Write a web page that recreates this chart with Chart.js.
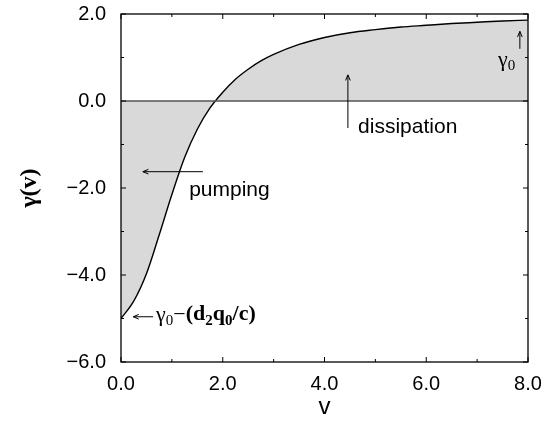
<!DOCTYPE html>
<html>
<head>
<meta charset="utf-8">
<script src="https://cdn.jsdelivr.net/npm/chart.js@4"></script>
<style>
  body { margin: 0; background: #fff; }
  #wrap { width: 552px; height: 422px; position: relative; }
</style>
</head>
<body>
<div id="wrap"><canvas id="gamma"></canvas></div>
<script>
// values
const vValues = [0, 0.25, 0.5, 0.75, 1.0, 1.25, 1.5, 1.75, 2.0, 2.25, 2.5, 2.75, 3.0, 3.5, 4.0, 4.5, 5.0, 5.5, 6.0, 6.5, 7.0, 7.5, 8.0];
const gammaValues = [-5.0, -4.6, -3.97, -3.08, -2.15, -1.3, -0.65, -0.16, 0.2, 0.5, 0.73, 0.92, 1.07, 1.3, 1.46, 1.57, 1.64, 1.70, 1.74, 1.78, 1.81, 1.84, 1.86];
const zeroLine = [0, 0];
const zeroV = [0, 8];
const xTicks = [0, 2, 4, 6, 8];
const yTicks = [-6, -4, -2, 0, 2];

const sans = '"Liberation Sans", Arial, sans-serif';
const serif = '"Liberation Serif", "Times New Roman", serif';

function fmt(v) {
  return v.toFixed(1).replace('-', '\u2212');
}

function arrow(ctx, x1, y1, x2, y2) {
  let a = Math.atan2(y2 - y1, x2 - x1), h = 6;
  ctx.beginPath();
  ctx.moveTo(x1, y1);
  ctx.lineTo(x2, y2);
  ctx.moveTo(x2 - h * Math.cos(a - 0.4), y2 - h * Math.sin(a - 0.4));
  ctx.lineTo(x2, y2);
  ctx.lineTo(x2 - h * Math.cos(a + 0.4), y2 - h * Math.sin(a + 0.4));
  ctx.stroke();
}

// draw a list of [text, bold, sub] pieces from x, middle at y
function pieces(ctx, list, x, y, size) {
  ctx.textBaseline = 'middle';
  ctx.textAlign = 'left';
  list.forEach(p => {
    let s = p[2] ? Math.round(size * 0.7) : size;
    ctx.font = (p[1] ? 'bold ' : '') + s + 'px ' + serif;
    ctx.fillText(p[0], x, p[2] ? y + size * 0.28 : y);
    x += ctx.measureText(p[0]).width;
  });
}

const frame = {
  id: 'frame',
  afterDatasetsDraw(chart) {
    let ctx = chart.ctx, a = chart.chartArea;
    let xs = chart.scales.x, ys = chart.scales.y;
    ctx.save();
    ctx.strokeStyle = '#000';
    ctx.lineWidth = 1.3;
    ctx.strokeRect(a.left, a.top, a.right - a.left, a.bottom - a.top);
    ctx.lineWidth = 1;
    for (let v = 0; v <= 8; v++) {
      let px = xs.getPixelForValue(v), len = v % 2 === 0 ? 5 : 3;
      ctx.beginPath();
      ctx.moveTo(px, a.bottom); ctx.lineTo(px, a.bottom - len);
      ctx.moveTo(px, a.top); ctx.lineTo(px, a.top + len);
      ctx.stroke();
    }
    for (let g = -6; g <= 2; g++) {
      let py = ys.getPixelForValue(g), len = g % 2 === 0 ? 5 : 3;
      ctx.beginPath();
      ctx.moveTo(a.left, py); ctx.lineTo(a.left + len, py);
      ctx.moveTo(a.right, py); ctx.lineTo(a.right - len, py);
      ctx.stroke();
    }

    // annotations
    let X = v => xs.getPixelForValue(v), Y = g => ys.getPixelForValue(g);
    ctx.fillStyle = '#000';
    ctx.lineWidth = 1;
    arrow(ctx, X(1.61), Y(-1.625), X(0.43), Y(-1.625));
    ctx.font = '21px ' + sans;
    ctx.textBaseline = 'middle';
    ctx.fillText('pumping', X(1.34), Y(-2.06));

    arrow(ctx, X(4.46), Y(-0.62), X(4.46), Y(0.6));
    ctx.fillText('dissipation', X(4.66), Y(-0.6));

    arrow(ctx, X(7.84), Y(1.2), X(7.84), Y(1.6));
    pieces(ctx, [['\u03b3', false, false], ['0', false, true]], X(7.41), Y(0.87) - 3, 22);

    arrow(ctx, X(0.63), Y(-4.96), X(0.24), Y(-4.96));
    pieces(ctx, [
      ['\u03b3', false, false], ['0', false, true], ['\u2212', false, false],
      ['(d', true, false], ['2', true, true], ['q', true, false], ['0', true, true], ['/c)', true, false]
    ], X(0.69), Y(-4.96) - 2, 22);
    ctx.restore();
  }
};

new Chart(document.getElementById('gamma').getContext('2d'), {
  type: 'line',
  data: {
    datasets: [
      {
        data: vValues.map((v, i) => ({ x: v, y: gammaValues[i] })),
        borderColor: '#000',
        borderWidth: 1.4,
        backgroundColor: '#d9d9d9',
        fill: 'origin',
        pointRadius: 0,
        cubicInterpolationMode: 'monotone',
        order: 2
      },
      {
        data: zeroV.map((v, i) => ({ x: v, y: zeroLine[i] })),
        borderColor: '#555',
        borderWidth: 1.4,
        pointRadius: 0,
        fill: false,
        order: 1
      }
    ]
  },
  options: {
    responsive: true,
    maintainAspectRatio: false,
    animation: false,
    layout: { padding: { left: 0, top: 14, right: 24, bottom: 0 } },
    plugins: { legend: { display: false }, tooltip: { enabled: false } },
    scales: {
      x: {
        type: 'linear', min: 0, max: 8,
        afterBuildTicks: s => { s.ticks = xTicks.map(v => ({ value: v })); },
        afterFit: s => { s.height = 60; s.paddingLeft = 0; s.paddingRight = 0; },
        grid: { display: false, drawTicks: false },
        border: { display: false },
        ticks: { padding: 10, color: '#000', font: { family: sans, size: 20 }, callback: fmt },
        title: { display: true, text: 'v', color: '#000', font: { family: sans, size: 24 }, padding: 0 }
      },
      y: {
        type: 'linear', min: -6, max: 2,
        afterBuildTicks: s => { s.ticks = yTicks.map(v => ({ value: v })); },
        afterFit: s => { s.width = 121; s.paddingTop = 0; s.paddingBottom = 0; },
        grid: { display: false, drawTicks: false },
        border: { display: false },
        ticks: { padding: 15, color: '#000', font: { family: sans, size: 20 }, callback: fmt },
        title: { display: true, text: '\u03b3(v)', color: '#000', font: { family: serif, size: 24, weight: 'bold' }, padding: { top: 15, bottom: 0 } }
      }
    }
  },
  plugins: [frame]
});
</script>
</body>
</html>
